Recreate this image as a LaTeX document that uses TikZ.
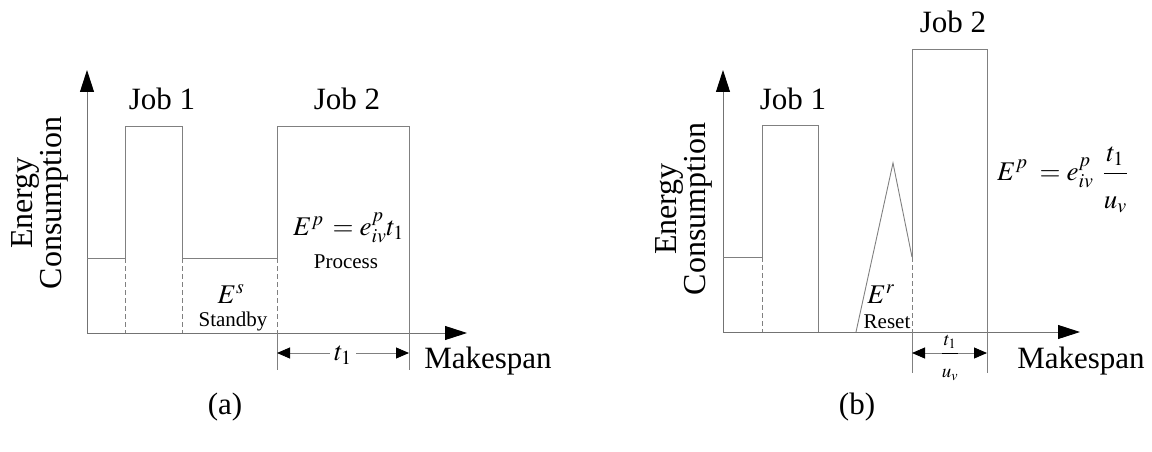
\documentclass[tikz,border=0pt]{standalone}
\usepackage{mathptmx}
\usepackage[no-math]{fontspec}
\setmainfont{Liberation Serif}
\usetikzlibrary{arrows.meta}
\tikzset{
  curve/.style={draw=black!50, line width=0.9pt},
  guide/.style={draw=black!50, line width=0.9pt, dash pattern=on 5pt off 3pt},
  axis/.style={draw=black!55, line width=0.9pt, -{Triangle[length=22pt,width=14pt,black]}},
  span/.style={draw=black!50, line width=0.9pt,
    {Triangle[length=13pt,width=11pt,black]}-{Triangle[length=13pt,width=11pt,black]}},
  big/.style={font=\fontsize{31}{33}\selectfont, inner sep=0pt},
  ylab/.style={font=\fontsize{32}{34}\selectfont, inner sep=0pt, align=center, rotate=90},
  mid/.style={font=\fontsize{27}{30}\selectfont, inner sep=0pt},
  small/.style={font=\fontsize{21}{23}\selectfont, inner sep=0pt},
}
\begin{document}
\begin{tikzpicture}[x=1pt,y=-1pt]
\useasboundingbox (0,0) rectangle (1152,452);

% ---------- panel (a): idle machine on standby ----------
\coordinate (oa) at (87,333);
\coordinate (ya) at (87,70);
\coordinate (xa) at (467,333);
\draw[axis] (oa) -- (ya);
\draw[axis] (oa) -- (xa);

\coordinate (a1) at (87,258);
\coordinate (a2) at (125,258);
\coordinate (a3) at (125,126);
\coordinate (a4) at (182,126);
\coordinate (a5) at (182,258);
\coordinate (a6) at (277,258);
\coordinate (a7) at (277,126);
\coordinate (a8) at (409,126);
\coordinate (a9) at (409,370);
\draw[curve] (a1) -- (a2) -- (a3) -- (a4) -- (a5) -- (a6) -- (a7) -- (a8) -- (a9);

\coordinate (a2b) at (125,333);
\coordinate (a5b) at (182,333);
\coordinate (a6b) at (277,333);
\coordinate (a6c) at (277,370);
\draw[guide] (a2) -- (a2b);
\draw[guide] (a5) -- (a5b);
\draw[guide] (a6) -- (a6b);
\draw[curve] (a6b) -- (a6c);

\coordinate (ta1) at (277,353);
\coordinate (ta2) at (409,353);
\draw[span] (ta1) -- (ta2);
\node[mid, fill=white, inner xsep=4pt, inner ysep=1pt] (ta) at (343,355) {$t_1$};

\node[ylab] (yla) at (40,203) {Energy\\[-5pt]Consumption};
\node[big] (xla) at (488,361) {Makespan};
\node[big] (job1a) at (162,99) {Job 1};
\node[big] (job2a) at (347,99) {Job 2};
\node[mid, anchor=base west] (epa) at (293,235) {$E^{p}\,=e_{iv}^{p}t_{1}$};
\node[small] (proca) at (346,262) {Process};
\node[mid, anchor=base] (esa) at (231,303) {$E^{s}$};
\node[small] (stba) at (233,321) {Standby};
\node[big] (capa) at (225,407) {(a)};

% ---------- panel (b): machine reset and speed-up ----------
\coordinate (ob) at (723,332);
\coordinate (yb) at (723,70);
\coordinate (xb) at (1080,332);
\draw[axis] (ob) -- (yb);
\draw[axis] (ob) -- (xb);

\coordinate (b1) at (723,257);
\coordinate (b2) at (762,257);
\coordinate (b3) at (762,125);
\coordinate (b4) at (818,125);
\coordinate (b5) at (818,332);
\draw[curve] (b1) -- (b2) -- (b3) -- (b4) -- (b5);
\coordinate (b2b) at (762,332);
\draw[guide] (b2) -- (b2b);

\coordinate (r1) at (856,332);
\coordinate (r2) at (893,163);
\coordinate (r3) at (912,257);
\draw[curve] (r1) -- (r2) -- (r3);

\coordinate (b6) at (912,49);
\coordinate (b7) at (987,49);
\coordinate (b8) at (987,373);
\draw[curve] (r3) -- (b6) -- (b7) -- (b8);
\coordinate (r3b) at (912,332);
\coordinate (r3c) at (912,373);
\draw[guide] (r3) -- (r3b);
\draw[curve] (r3b) -- (r3c);

\coordinate (tb1) at (912,353);
\coordinate (tb2) at (987,353);
\draw[span] (tb1) -- (tb2);
\node[font=\fontsize{19}{21}\selectfont, inner sep=0pt, anchor=base] (tb) at (950,358)
  {$\displaystyle\frac{t_1}{\rule{0pt}{1.15em}u_v}$};

\node[ylab] (ylb) at (684,209) {Energy\\[-5pt]Consumption};
\node[big] (xlb) at (1081,361) {Makespan};
\node[big] (job1b) at (793,99) {Job 1};
\node[big] (job2b) at (953,22) {Job 2};
\node[mid, anchor=base west] (epb) at (997,180)
  {$\displaystyle E^{p}\;=e_{iv}^{p}\;\,\frac{t_{1}}{\rule{0pt}{1.15em}u_{v}}$};
\node[mid, anchor=base] (erb) at (881,303) {$E^{r}$};
\node[small] (rstb) at (887,322) {Reset};
\node[big] (capb) at (857,407) {(b)};
\end{tikzpicture}
\end{document}
